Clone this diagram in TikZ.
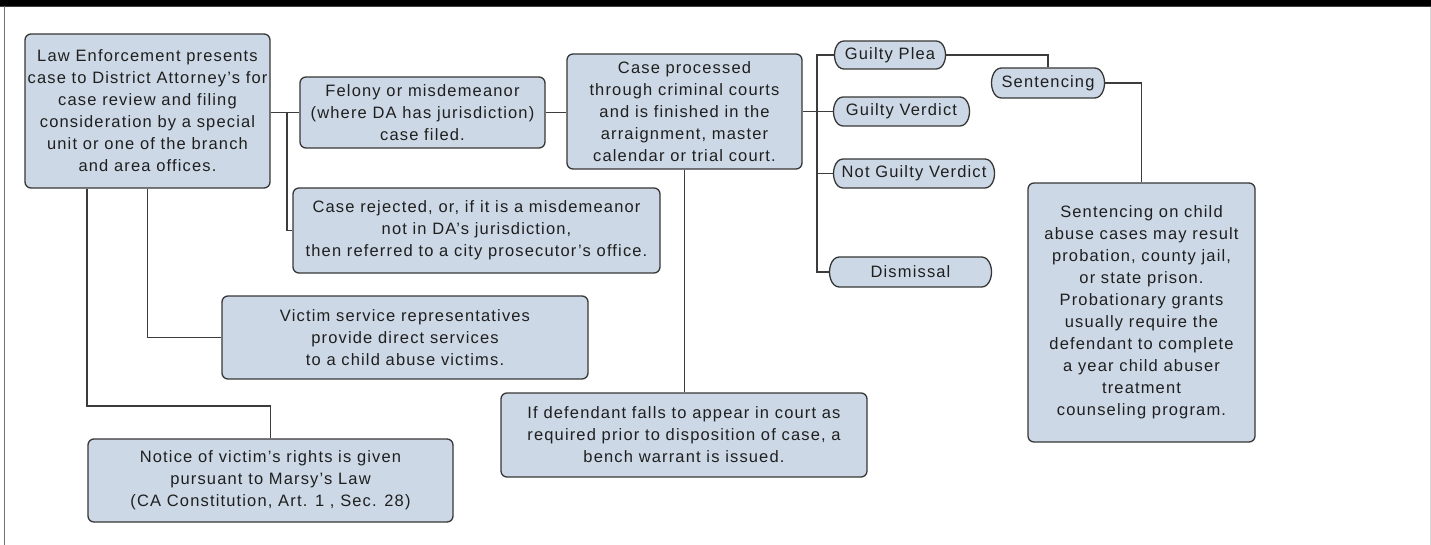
\documentclass[tikz,border=0pt]{standalone}
\usepackage{fontspec}
\setmainfont{Liberation Sans}[LetterSpace=7]
\usetikzlibrary{shapes.misc}
\definecolor{boxfill}{RGB}{204,216,230}
\definecolor{boxline}{RGB}{55,55,55}
\definecolor{wirecol}{RGB}{60,60,60}
\newcommand\bodyfont{\fontsize{16.5}{22}\selectfont}
\tikzset{
  box/.style={draw=boxline, fill=boxfill, line width=1.3pt, rounded corners=6pt,
    align=center, inner sep=0pt, font=\bodyfont, text=black!88},
  pill/.style={draw=boxline, fill=boxfill, line width=1.3pt, rounded rectangle,
    rounded rectangle arc length=90, rounded corners=3pt, inner sep=0pt, font=\bodyfont, text=black!88},
  wire/.style={draw=wirecol, line width=1.4pt}
}
\begin{document}
\begin{tikzpicture}[x=1pt,y=-1pt]
\useasboundingbox (0,0) rectangle (1431,545);
\fill[white] (0,0) rectangle (1431,545);
\fill[black] (0,0) rectangle (1431,6);
\draw[black!75, line width=1pt] (0,6.5) -- (1431,6.5);
\draw[black!55, line width=1.2pt] (4.5,6) -- (4.5,545);
\draw[black!15, line width=1pt] (1430,7) -- (1430,545);

% nodes
\node[box, minimum width=245pt, minimum height=154pt] (A) at (147.5,111)
  {Law Enforcement presents\\case to District Attorney's for\\case review and filing\\consideration by a special\\unit or one of the branch\\and area offices.};
\node[box, minimum width=245pt, minimum height=71pt] (B) at (422.5,112.5)
  {Felony or misdemeanor\\(where DA has jurisdiction)\\case filed.};
\node[box, minimum width=367pt, minimum height=85pt] (C) at (476.5,230.5)
  {Case rejected, or, if it is a misdemeanor\\not in DA's jurisdiction,\\then referred to a city prosecutor's office.};
\node[box, minimum width=235pt, minimum height=115pt] (D) at (684.5,111.5)
  {Case processed\\through criminal courts\\and is finished in the\\arraignment, master\\calendar or trial court.};
\node[pill, minimum width=110pt, minimum height=28pt] (GP) at (890,55) {Guilty Plea};
\node[pill, minimum width=135pt, minimum height=29pt] (GV) at (901.5,111.5) {Guilty Verdict};
\node[pill, minimum width=160pt, minimum height=29pt] (NG) at (914,173.5) {Not Guilty Verdict};
\node[pill, minimum width=161pt, minimum height=30pt] (DI) at (910.5,272) {Dismissal};
\node[pill, minimum width=112pt, minimum height=30pt] (SE) at (1048,83) {Sentencing};
\node[box, minimum width=227pt, minimum height=259pt] (SB) at (1141.5,312.5)
  {Sentencing on child\\abuse cases may result\\probation, county jail,\\or state prison.\\Probationary grants\\usually require the\\defendant to complete\\a year child abuser\\treatment\\counseling program.};
\node[box, minimum width=366pt, minimum height=83pt] (V) at (405,337.5)
  {Victim service representatives\\provide direct services\\to a child abuse victims.};
\node[box, minimum width=365pt, minimum height=83pt] (N) at (270.5,480.5)
  {Notice of victim's rights is given\\pursuant to Marsy's Law\\(CA Constitution, Art. 1 , Sec. 28)};
\node[box, minimum width=366pt, minimum height=84pt] (W) at (684,435)
  {If defendant falls to appear in court as\\required prior to disposition of case, a\\bench warrant is issued.};

% connectors
\coordinate (j1) at (287,112.5);
\coordinate (sp) at (817,0);
\coordinate (k1) at (87,406);
\draw[wire] (A.east |- B.west) -- (B.west);
\draw[wire] (j1) |- (C.west);
\draw[wire] (B.east) -- (B.east -| D.west);
\draw[wire] (D.east) -- (GV.west);
\draw[wire] (GP.west) -- (GP.west -| sp) -- (DI.west -| sp) -- (DI.west);
\draw[wire] (NG.west -| sp) -- (NG.west);
\draw[wire] (GP.east) -| (SE.north);
\draw[wire] (SE.east) -| (SB.north);
\draw[wire] (D.south) -- (D.south |- W.north);
\draw[wire] (A.south) |- (V.west);
\draw[wire] (k1 |- A.south) -- (k1) -| (N.north);
\end{tikzpicture}
\end{document}
